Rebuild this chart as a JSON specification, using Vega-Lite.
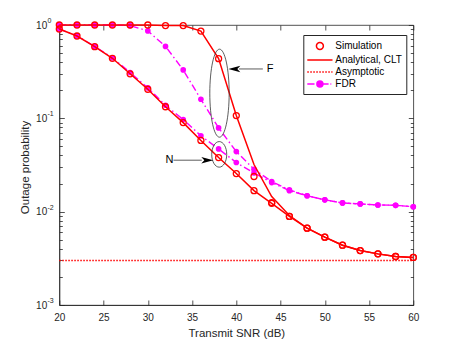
{
"$schema":"https://vega.github.io/schema/vega-lite/v6.json",
"width":354,"height":280,
"autosize":{"type":"none"},
"padding":{"left":59.3,"top":25,"right":43.7,"bottom":38},
"background":"white",
"config":{
 "view":{"stroke":"#262626","strokeWidth":0.8},
 "axis":{"grid":false,"labelFlush":false,"domainColor":"#262626","domainWidth":0.8,"tickColor":"#262626","tickWidth":0.8,"labelColor":"#262626","titleColor":"#262626","labelFont":"Liberation Sans","titleFont":"Liberation Sans","labelFontSize":10,"titleFontSize":11.5,"titleFontWeight":"normal"}
},
"datasets":{
 "main":[
  {"snr":20,"curve":"N","sim":0.906,"ana":0.906,"fdr":0.906},
  {"snr":22,"curve":"N","sim":0.762,"ana":0.762,"fdr":0.765},
  {"snr":24,"curve":"N","sim":0.586,"ana":0.586,"fdr":0.59},
  {"snr":26,"curve":"N","sim":0.44,"ana":0.44,"fdr":0.445},
  {"snr":28,"curve":"N","sim":0.30,"ana":0.30,"fdr":0.31},
  {"snr":30,"curve":"N","sim":0.205,"ana":0.205,"fdr":0.212},
  {"snr":32,"curve":"N","sim":0.133,"ana":0.133,"fdr":0.138},
  {"snr":34,"curve":"N","sim":0.090,"ana":0.090,"fdr":0.097},
  {"snr":36,"curve":"N","sim":0.058,"ana":0.058,"fdr":0.065},
  {"snr":38,"curve":"N","sim":0.038,"ana":0.038,"fdr":0.047},
  {"snr":40,"curve":"N","sim":0.0256,"ana":0.0256,"fdr":0.0336},
  {"snr":42,"curve":"N","sim":0.0168,"ana":0.0168,"fdr":0.026},
  {"snr":44,"curve":"N","sim":0.0123,"ana":0.0123,"fdr":0.0205},
  {"snr":46,"curve":"N","sim":0.0089,"ana":0.0089,"fdr":0.0168},
  {"snr":48,"curve":"N","sim":0.00665,"ana":0.00665,"fdr":0.0148},
  {"snr":50,"curve":"N","sim":0.00533,"ana":0.00533,"fdr":0.0134},
  {"snr":52,"curve":"N","sim":0.00437,"ana":0.00437,"fdr":0.0124},
  {"snr":54,"curve":"N","sim":0.00383,"ana":0.00383,"fdr":0.0121},
  {"snr":56,"curve":"N","sim":0.00353,"ana":0.00353,"fdr":0.0118},
  {"snr":58,"curve":"N","sim":0.00331,"ana":0.00331,"fdr":0.0117},
  {"snr":60,"curve":"N","sim":0.00323,"ana":0.00323,"fdr":0.0113},
  {"snr":20,"curve":"F","sim":1.0,"ana":1.0,"fdr":1.0},
  {"snr":22,"curve":"F","sim":1.0,"ana":1.0,"fdr":1.0},
  {"snr":24,"curve":"F","sim":1.0,"ana":1.0,"fdr":1.0},
  {"snr":26,"curve":"F","sim":1.0,"ana":1.0,"fdr":1.0},
  {"snr":28,"curve":"F","sim":1.0,"ana":1.0,"fdr":0.985},
  {"snr":30,"curve":"F","sim":1.0,"ana":1.0,"fdr":0.865},
  {"snr":32,"curve":"F","sim":0.985,"ana":0.985,"fdr":0.59},
  {"snr":34,"curve":"F","sim":0.985,"ana":0.985,"fdr":0.33},
  {"snr":36,"curve":"F","sim":0.86,"ana":0.86,"fdr":0.16},
  {"snr":38,"curve":"F","sim":0.436,"ana":0.436,"fdr":0.079},
  {"snr":40,"curve":"F","sim":0.107,"ana":0.107,"fdr":0.044},
  {"snr":42,"curve":"F","sim":0.0238,"ana":0.032,"fdr":0.0285},
  {"snr":44,"curve":"F","sim":0.0125,"ana":0.0145,"fdr":0.021},
  {"snr":46,"curve":"F","sim":0.0089,"ana":0.0091,"fdr":0.0171},
  {"snr":48,"curve":"F","sim":0.00665,"ana":0.00665,"fdr":0.0148},
  {"snr":50,"curve":"F","sim":0.00533,"ana":0.00533,"fdr":0.0134},
  {"snr":52,"curve":"F","sim":0.00437,"ana":0.00437,"fdr":0.0124},
  {"snr":54,"curve":"F","sim":0.00383,"ana":0.00383,"fdr":0.0121},
  {"snr":56,"curve":"F","sim":0.00353,"ana":0.00353,"fdr":0.0118},
  {"snr":58,"curve":"F","sim":0.00331,"ana":0.00331,"fdr":0.0117},
  {"snr":60,"curve":"F","sim":0.00323,"ana":0.00323,"fdr":0.0113}
 ],
 "asym":[{"snr":20,"asym":0.003},{"snr":60,"asym":0.003}]
},
"layer":[
 {"data":{"name":"main"},
  "mark":{"type":"line","color":"#FF00FF","strokeWidth":1.4,"strokeDash":[7,3,1.5,3]},
  "encoding":{
   "x":{"field":"snr","type":"quantitative","scale":{"domain":[20,60],"nice":false,"zero":false},
        "axis":{"orient":"bottom","values":[20,25,30,35,40,45,50,55,60],"tickSize":-5,"labelPadding":12,"labelFlush":false,"title":"Transmit SNR (dB)","titleX":177,"titleY":28,"titleBaseline":"middle"}},
   "y":{"field":"fdr","type":"quantitative","scale":{"type":"log","domain":[0.001,1],"nice":false},
        "axis":{"orient":"left","values":[0.001,0.01,0.1,1],"tickSize":-5,"labelPadding":17.6,"labelAlign":"right","labelBaseline":"middle",
                "labelExpr":"'10'",
                "title":"Outage probability","titleX":-34.3,"titleY":142,"titleBaseline":"middle"}},
   "detail":{"field":"curve"}
  }},
 {"data":{"name":"main"},
  "mark":{"type":"point","filled":true,"color":"#FF00FF","size":32,"opacity":1},
  "encoding":{
   "x":{"field":"snr","type":"quantitative","axis":{"orient":"top","values":[20,25,30,35,40,45,50,55,60],"tickSize":-5,"labels":false,"domain":false,"title":null}},
   "y":{"field":"fdr","type":"quantitative","axis":{"orient":"left","values":[0.002,0.003,0.004,0.005,0.006,0.007,0.008,0.009,0.02,0.03,0.04,0.05,0.06,0.07,0.08,0.09,0.2,0.3,0.4,0.5,0.6,0.7,0.8,0.9],"tickSize":-3,"labels":false,"domain":false,"title":null}}
  }},
 {"data":{"name":"asym"},
  "mark":{"type":"line","color":"#FF0000","strokeWidth":1.5,"strokeDash":[1.5,1.5]},
  "encoding":{
   "x":{"field":"snr","type":"quantitative","axis":null},
   "y":{"field":"asym","type":"quantitative","axis":{"orient":"right","values":[0.001,0.01,0.1,1],"tickSize":-5,"labels":false,"domain":false,"title":null}}
  }},
 {"data":{"name":"main"},
  "mark":{"type":"line","color":"#FF0000","strokeWidth":1.5},
  "encoding":{
   "x":{"field":"snr","type":"quantitative","axis":null},
   "y":{"field":"ana","type":"quantitative","axis":{"orient":"right","values":[0.002,0.003,0.004,0.005,0.006,0.007,0.008,0.009,0.02,0.03,0.04,0.05,0.06,0.07,0.08,0.09,0.2,0.3,0.4,0.5,0.6,0.7,0.8,0.9],"tickSize":-3,"labels":false,"domain":false,"title":null}},
   "detail":{"field":"curve"}
  }},
 {"data":{"name":"main"},
  "mark":{"type":"point","filled":false,"color":"#FF0000","size":36,"strokeWidth":1.3,"opacity":1},
  "encoding":{
   "x":{"field":"snr","type":"quantitative","axis":null},
   "y":{"field":"sim","type":"quantitative","axis":{"orient":"left","values":[0.001,0.01,0.1,1],"tickSize":0,"domain":false,"title":null,"labelFontSize":7,"labelAlign":"left","labelBaseline":"middle","labelPadding":12.3,"labelOffset":-4.5,
        "labelExpr":"datum.value >= 0.5 ? '0' : datum.value >= 0.05 ? '-1' : datum.value >= 0.005 ? '-2' : '-3'"}}
  }},
 {"data":{"values":[{"snr":38.1,"p":0.186}]},
  "mark":{"type":"point","filled":false,"color":"#333333","strokeWidth":0.8,"opacity":1,"size":7744,"shape":"M-0.22,0A0.22,1,0,1,0,0.22,0A0.22,1,0,1,0,-0.22,0Z"},
  "encoding":{"x":{"field":"snr","type":"quantitative","axis":null},"y":{"field":"p","type":"quantitative","axis":null}}},
 {"data":{"values":[{"snr":38.07,"p":0.0411}]},
  "mark":{"type":"point","filled":false,"color":"#333333","strokeWidth":0.8,"opacity":1,"size":655,"shape":"M-0.586,0A0.586,1,0,1,0,0.586,0A0.586,1,0,1,0,-0.586,0Z"},
  "encoding":{"x":{"field":"snr","type":"quantitative","axis":null},"y":{"field":"p","type":"quantitative","axis":null}}},
 {"data":{"values":[{"snr":43.0,"snr2":40.3,"p":0.338},{"snr":32.9,"snr2":36.1,"p":0.0356}]},
  "mark":{"type":"rule","color":"#333333","strokeWidth":0.8},
  "encoding":{"x":{"field":"snr","type":"quantitative","axis":null},"x2":{"field":"snr2"},"y":{"field":"p","type":"quantitative","axis":null}}},
 {"data":{"values":[{"snr":39.1,"p":0.338}]},
  "mark":{"type":"point","filled":true,"color":"#000000","opacity":1,"size":144,"shape":"M0,0L2,-0.55L1.5,0L2,0.55Z"},
  "encoding":{"x":{"field":"snr","type":"quantitative","axis":null},"y":{"field":"p","type":"quantitative","axis":null}}},
 {"data":{"values":[{"snr":37.4,"p":0.0356}]},
  "mark":{"type":"point","filled":true,"color":"#000000","opacity":1,"size":144,"shape":"M0,0L-2,-0.55L-1.5,0L-2,0.55Z"},
  "encoding":{"x":{"field":"snr","type":"quantitative","axis":null},"y":{"field":"p","type":"quantitative","axis":null}}},
 {"data":{"values":[{"snr":43.83,"p":0.338,"t":"F"},{"snr":32.45,"p":0.0356,"t":"N"}]},
  "mark":{"type":"text","font":"Liberation Sans","fontSize":11,"color":"#000000","align":"center","baseline":"middle"},
  "encoding":{"x":{"field":"snr","type":"quantitative","axis":null},"y":{"field":"p","type":"quantitative","axis":null},"text":{"field":"t"}}},
 {"data":{"name":"main"},
  "transform":[{"filter":"false"}],
  "mark":{"type":"point","filled":false,"opacity":1},
  "encoding":{
   "x":{"field":"snr","type":"quantitative","axis":null},
   "y":{"field":"sim","type":"quantitative","axis":null},
   "shape":{"field":"series","type":"nominal",
     "scale":{"domain":["Simulation","Analytical, CLT","Asymptotic","FDR"],
              "range":["M-0.58,0A0.58,0.58,0,1,0,0.58,0A0.58,0.58,0,1,0,-0.58,0Z",
                       "M-2.1,0L2.1,0",
                       "M-2.1,0L-1.85,0M-1.6,0L-1.35,0M-1.1,0L-0.85,0M-0.6,0L-0.35,0M-0.1,0L0.15,0M0.4,0L0.65,0M0.9,0L1.15,0M1.4,0L1.65,0M1.9,0L2.1,0",
                       "M-2.1,0L-0.9,0M-0.6,0L-0.45,0M0.5,0L1.45,0M1.75,0L1.9,0M-0.5,0A0.5,0.5,0,1,0,0.5,0A0.5,0.5,0,1,0,-0.5,0Z"]},
     "legend":{"title":null,"orient":"none","legendX":244,"legendY":10,"strokeColor":"#262626","fillColor":"white","padding":4,"symbolSize":144,"symbolStrokeWidth":1.5,"symbolOffset":5.6,"labelOffset":8.4,"labelFontSize":10,"labelFont":"Liberation Sans","labelColor":"#000000","rowPadding":0,"symbolOpacity":1}},
   "stroke":{"field":"series","type":"nominal",
     "scale":{"domain":["Simulation","Analytical, CLT","Asymptotic","FDR"],"range":["#FF0000","#FF0000","#FF0000","#FF00FF"]},
     "legend":{"title":null,"orient":"none","legendX":244,"legendY":10,"strokeColor":"#262626","fillColor":"white","padding":4,"symbolSize":144,"symbolStrokeWidth":1.5,"symbolOffset":5.6,"labelOffset":8.4,"labelFontSize":10,"labelFont":"Liberation Sans","labelColor":"#000000","rowPadding":0,"symbolOpacity":1}},
   "fill":{"field":"series","type":"nominal",
     "scale":{"domain":["Simulation","Analytical, CLT","Asymptotic","FDR"],"range":["transparent","transparent","transparent","#FF00FF"]},
     "legend":{"title":null,"orient":"none","legendX":244,"legendY":10,"strokeColor":"#262626","fillColor":"white","padding":4,"symbolSize":144,"symbolStrokeWidth":1.5,"symbolOffset":5.6,"labelOffset":8.4,"labelFontSize":10,"labelFont":"Liberation Sans","labelColor":"#000000","rowPadding":0,"symbolOpacity":1}}
  }}
],
"resolve":{"axis":{"x":"independent","y":"independent"}}
}
